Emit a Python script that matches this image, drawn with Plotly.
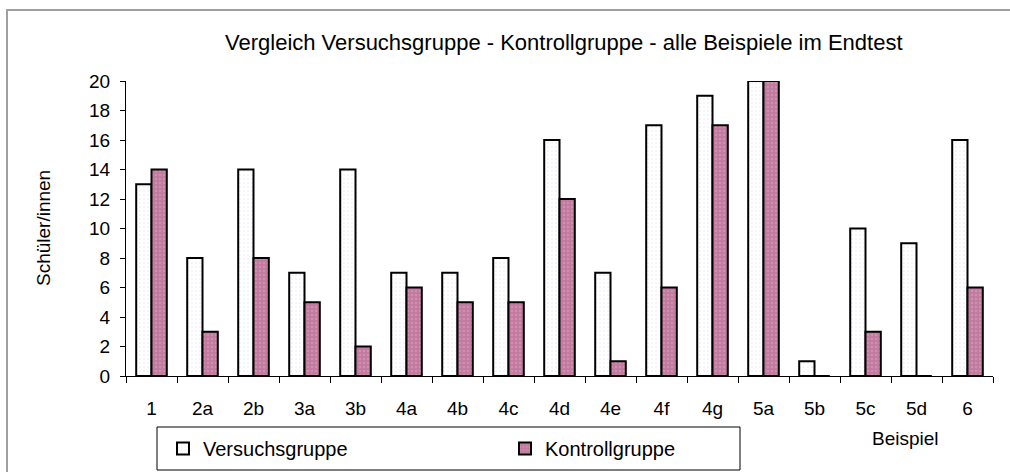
import plotly.graph_objects as go

categories = ["1", "2a", "2b", "3a", "3b", "4a", "4b", "4c", "4d", "4e", "4f", "4g", "5a", "5b", "5c", "5d", "6"]
versuchsgruppe = [13, 8, 14, 7, 14, 7, 7, 8, 16, 7, 17, 19, 20, 1, 10, 9, 16]
kontrollgruppe = [14, 3, 8, 5, 2, 6, 5, 5, 12, 1, 6, 17, 20, 0, 3, 0, 6]
y_ticks = [0, 2, 4, 6, 8, 10, 12, 14, 16, 18, 20]

FONT = "Liberation Sans, Arial, sans-serif"

fig = go.Figure()
fig.add_trace(go.Bar(
    x=categories, y=versuchsgruppe, name="Versuchsgruppe",
    marker=dict(color="white", line=dict(color="black", width=2),
                pattern=dict(shape=".", fgcolor="#d8d8ec", bgcolor="white", size=4, solidity=0.15)),
))
fig.add_trace(go.Bar(
    x=categories, y=kontrollgruppe, name="Kontrollgruppe",
    marker=dict(color="#c47fa2", line=dict(color="black", width=2),
                pattern=dict(shape=".", fgcolor="#dba6c0", bgcolor="#c27a9f", size=4, solidity=0.3)),
))

L, R, T, B = 126, 17, 81, 96
W, H = 1010 - L - R, 472 - T - B

def px_x(p):
    return (p - L) / W

def px_y(p):
    return (472 - B - p) / H

fig.update_layout(
    width=1010, height=472,
    margin=dict(l=L, r=R, t=T, b=B, autoexpand=False),
    paper_bgcolor="white", plot_bgcolor="white",
    font=dict(family=FONT, size=19, color="black"),
    barmode="group", bargap=0.4, bargroupgap=0.0,
    showlegend=True,
    legend=dict(
        orientation="h", x=px_x(163), y=px_y(429), xanchor="left", yanchor="top",
        entrywidth=297, entrywidthmode="pixels",
        bgcolor="rgba(0,0,0,0)", borderwidth=0,
        font=dict(family=FONT, size=20, color="black"),
    ),
    xaxis=dict(
        type="category", showline=True, linecolor="black", linewidth=1,
        ticks="outside", tickson="boundaries", ticklen=6, tickcolor="black",
        showgrid=False, tickfont=dict(size=19), zeroline=False,
        automargin=False, ticklabelstandoff=15,
    ),
    yaxis=dict(
        range=[0, 20], tickvals=y_ticks, showline=True, linecolor="black", linewidth=1,
        ticks="outside", ticklen=5, tickcolor="black", showgrid=False,
        zeroline=False, tickfont=dict(size=19), automargin=False,
        ticklabelstandoff=6,
    ),
    annotations=[
        dict(text="Vergleich Versuchsgruppe - Kontrollgruppe - alle Beispiele im Endtest",
             xref="paper", yref="paper", x=px_x(564), y=px_y(42), showarrow=False,
             xanchor="center", yanchor="middle", font=dict(size=22)),
        dict(text="Schüler/innen", xref="paper", yref="paper", x=px_x(43), y=px_y(228),
             showarrow=False, textangle=-90, xanchor="center", yanchor="middle",
             font=dict(size=19)),
        dict(text="Beispiel", xref="paper", yref="paper", x=px_x(905), y=px_y(438),
             showarrow=False, xanchor="center", yanchor="middle", font=dict(size=19)),
    ],
    shapes=[
        dict(type="rect", xref="paper", yref="paper",
             x0=px_x(7), x1=px_x(1030), y0=px_y(10), y1=px_y(500),
             line=dict(color="#a0a0a0", width=2), fillcolor="rgba(0,0,0,0)", layer="below"),
        dict(type="rect", xref="paper", yref="paper",
             x0=px_x(157), x1=px_x(740), y0=px_y(427), y1=px_y(470),
             line=dict(color="black", width=1), fillcolor="rgba(0,0,0,0)"),
    ],
)

fig.write_html("out.html", config={"displayModeBar": False},
               post_script="document.body.style.margin='0';")
